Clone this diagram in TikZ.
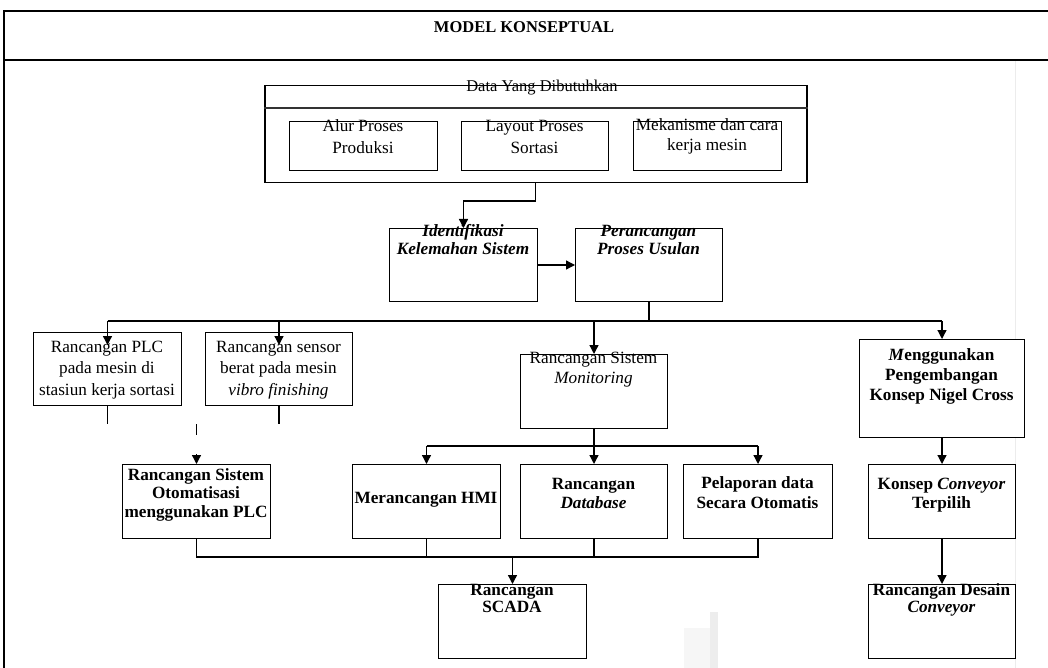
\documentclass[tikz,border=0pt]{standalone}
\usepackage{fontspec}
\setmainfont{Liberation Serif}
\usetikzlibrary{arrows.meta}
\newcommand\lab[6]{\node[lbl,font={#5\fontsize{17.2pt}{#4pt}\selectfont}] (#1) at (#2,{#3-0.7*#4}) {\strut #6};}
\begin{document}
\begin{tikzpicture}[x=1pt,y=-1pt,
  frame/.style={line width=1.5pt},
  box/.style={draw,line width=1pt,fill=white,inner sep=0pt,anchor=north west},
  lbl/.style={anchor=north,inner sep=0pt,align=center},
  ln/.style={line width=1.3pt},
  arr/.style={line width=1.3pt,-{Triangle[length=9pt,width=9pt]}}]
\useasboundingbox (0,0) rectangle (1048,668);
% faint page edge and watermark
\draw[gray!15,line width=1pt] (1015,60) -- (1015,668);
\fill[gray!7] (684,628) rectangle (712,668);
\fill[gray!14] (710,612) rectangle (718,668);
% frame
\draw[frame] (1048,11) -- (4,11) -- (4,668);
\draw[frame] (4,60) -- (1048,60);
\node[anchor=base,inner sep=0pt,font=\bfseries\fontsize{16.5pt}{20pt}\selectfont] (title) at (524,33) {MODEL KONSEPTUAL};
% data box
\node[box,line width=1.5pt,minimum width=542pt,minimum height=97pt] (data) at (264,85) {};
\draw[line width=2pt,black!80] (data.west |- 0,108.5) -- (data.east |- 0,108.5);
\node[anchor=base,inner sep=0pt,font=\fontsize{16.5pt}{20pt}\selectfont] (tdata) at (542,92) {Data Yang Dibutuhkan};
\node[box,minimum width=148pt,minimum height=49pt] (alur) at (289,121) {};
\node[box,minimum width=147pt,minimum height=49pt] (layout) at (461,121) {};
\node[box,minimum width=148pt,minimum height=49pt] (mek) at (633,121) {};
\lab{talur}{363}{131}{22}{}{Alur Proses\\Produksi}
\lab{tlayout}{534.5}{131}{22}{}{Layout Proses\\Sortasi}
\lab{tmek}{707}{130}{20}{}{Mekanisme dan cara\\kerja mesin}
% second level
\node[box,minimum width=148pt,minimum height=73pt] (ident) at (389,228) {};
\node[box,minimum width=147pt,minimum height=73pt] (perc) at (575,228) {};
\lab{tident}{463}{236}{18}{\bfseries\itshape}{Identifikasi\\Kelemahan Sistem}
\lab{tperc}{648.5}{236}{18}{\bfseries\itshape}{Perancangan\\Proses Usulan}
% third level
\node[box,minimum width=148pt,minimum height=73pt] (plc) at (33,332) {};
\node[box,minimum width=147pt,minimum height=73pt] (sens) at (205,332) {};
\node[box,minimum width=147pt,minimum height=74pt] (mon) at (520,354) {};
\node[box,minimum width=165pt,minimum height=98pt] (meng) at (859,339) {};
\lab{tplc}{107}{352}{21.5}{}{Rancangan PLC\\pada mesin di\\stasiun kerja sortasi}
\lab{tsens}{278.5}{352}{21.5}{}{Rancangan sensor\\berat pada mesin\\\textit{vibro finishing}}
\lab{tmon}{593.5}{363}{20}{}{Rancangan Sistem\\\textit{Monitoring}}
\lab{tmeng}{941.5}{360}{20}{\bfseries}{\textit{M}enggunakan\\Pengembangan\\Konsep Nigel Cross}
% fourth level
\node[box,minimum width=148pt,minimum height=74pt] (oto) at (122,464) {};
\node[box,minimum width=148pt,minimum height=74pt] (hmi) at (352,464) {};
\node[box,minimum width=147pt,minimum height=74pt] (db) at (520,464) {};
\node[box,minimum width=149pt,minimum height=74pt] (pel) at (683,464) {};
\node[box,minimum width=147pt,minimum height=74pt] (kon) at (868,464) {};
\lab{toto}{196}{480}{18.5}{\bfseries}{Rancangan Sistem\\Otomatisasi\\menggunakan PLC}
\lab{thmi}{426}{503}{19.5}{\bfseries}{Merancangan HMI}
\lab{tdb}{593.5}{489}{19.5}{\bfseries}{Rancangan\\\textit{Database}}
\lab{tpel}{757.5}{488}{20}{\bfseries}{Pelaporan data\\Secara Otomatis}
\lab{tkon}{941.5}{489}{19.5}{\bfseries}{Konsep \textit{Conveyor}\\Terpilih}
% fifth level
\node[box,minimum width=148pt,minimum height=74pt] (scada) at (438,584) {};
\node[box,minimum width=147pt,minimum height=74pt] (des) at (868,584) {};
\lab{tscada}{512}{595}{17}{\bfseries}{Rancangan\\SCADA}
\lab{tdes}{941.5}{595}{17}{\bfseries}{Rancangan Desain\\\textit{Conveyor}}
% connectors
\draw[arr] (data.south) -- (data.south |- 0,201) -| (ident.north);
\draw[arr] (ident.east) -- (perc.west);
\draw[ln] (perc.south) -- (perc.south |- 0,321);
\draw[ln] (plc.north |- 0,321) -- (meng.north |- 0,321);
\draw[arr] (plc.north |- 0,321) -- ([yshift=-13pt]plc.north);
\draw[arr] (sens.north |- 0,321) -- ([yshift=-13pt]sens.north);
\draw[arr] (mon.north |- 0,321) -- (mon.north);
\draw[arr] (meng.north |- 0,321) -- (meng.north);
\draw[ln] (plc.south) -- ++(0,18);
\draw[ln] (sens.south) -- ++(0,18);
\draw[ln] (oto.north |- 0,424) -- (oto.north |- 0,435);
\draw[arr] (oto.north |- 0,454) -- (oto.north);
\draw[ln] (mon.south) -- (mon.south |- 0,446);
\draw[ln] (hmi.north |- 0,446) -- (pel.north |- 0,446);
\draw[arr] (hmi.north |- 0,446) -- (hmi.north);
\draw[arr] (db.north |- 0,446) -- (db.north);
\draw[arr] (pel.north |- 0,446) -- (pel.north);
\draw[ln] (oto.south) -- (oto.south |- 0,557) -- (pel.south |- 0,557) -- (pel.south);
\draw[ln] (hmi.south) -- (hmi.south |- 0,557);
\draw[ln] (db.south) -- (db.south |- 0,557);
\draw[arr] (scada.north |- 0,557) -- (scada.north);
\draw[arr] (meng.south) -- (kon.north);
\draw[arr] (kon.south) -- (des.north);
\end{tikzpicture}
\end{document}
